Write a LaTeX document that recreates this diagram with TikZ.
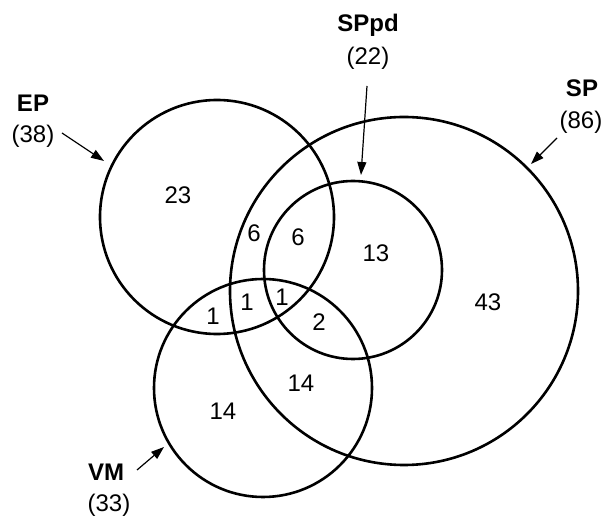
\documentclass[tikz,border=0pt]{standalone}
\usepackage{fontspec}
\setmainfont{Liberation Sans}
\usetikzlibrary{arrows.meta}
\begin{document}
\begin{tikzpicture}[x=1pt,y=-1pt,
  setcircle/.style={draw=black, line width=2.6pt, circle, inner sep=0pt, minimum size=#1},
  num/.style={font=\fontsize{24}{28}\selectfont, inner sep=0pt},
  lab/.style={font=\fontsize{24}{28}\selectfont\bfseries, inner sep=0pt},
  cnt/.style={font=\fontsize{24}{28}\selectfont, inner sep=0pt},
  pointer/.style={line width=1.2pt, -{Triangle[length=13pt,width=9pt]}}]
\useasboundingbox[fill=white] (0,0) rectangle (606,518);
% circles
\node[setcircle=234pt] (EP) at (217,217) {};
\node[setcircle=348pt] (SP) at (404,291) {};
\node[setcircle=178pt] (SPpd) at (353,270) {};
\node[setcircle=218pt] (VM) at (263,388) {};
% set labels
\node[lab] (EPn) at (33,103) {EP};
\node[cnt] (EPc) at (33,136) {(38)};
\node[lab] (SPpdn) at (368,25) {SPpd};
\node[cnt] (SPpdc) at (368,58) {(22)};
\node[lab] (SPn) at (582,88) {SP};
\node[cnt] (SPc) at (581,122) {(86)};
\node[lab] (VMn) at (106,472) {VM};
\node[cnt] (VMc) at (109,505) {(33)};
% arrow ends
\coordinate (EPa) at (62,133);
\coordinate (EPb) at (104,161);
\coordinate (SPpda) at (367,86);
\coordinate (SPpdb) at (361,175);
\coordinate (SPa) at (557,138);
\coordinate (SPb) at (531,164);
\coordinate (VMa) at (137,470);
\coordinate (VMb) at (164,447);
\draw[pointer] (EPa) -- (EPb);
\draw[pointer] (SPpda) -- (SPpdb);
\draw[pointer] (SPa) -- (SPb);
\draw[pointer] (VMa) -- (VMb);
% region counts
\node[num] (r23) at (178,195) {23};
\node[num] (r6a) at (254,233) {6};
\node[num] (r6b) at (298,237) {6};
\node[num] (r13) at (376,253) {13};
\node[num] (r43) at (488,302) {43};
\node[num] (r1a) at (213,316) {1};
\node[num] (r1b) at (247,302) {1};
\node[num] (r1c) at (282,297) {1};
\node[num] (r2) at (319,322) {2};
\node[num] (r14a) at (223,411) {14};
\node[num] (r14b) at (301,383) {14};
\end{tikzpicture}
\end{document}
